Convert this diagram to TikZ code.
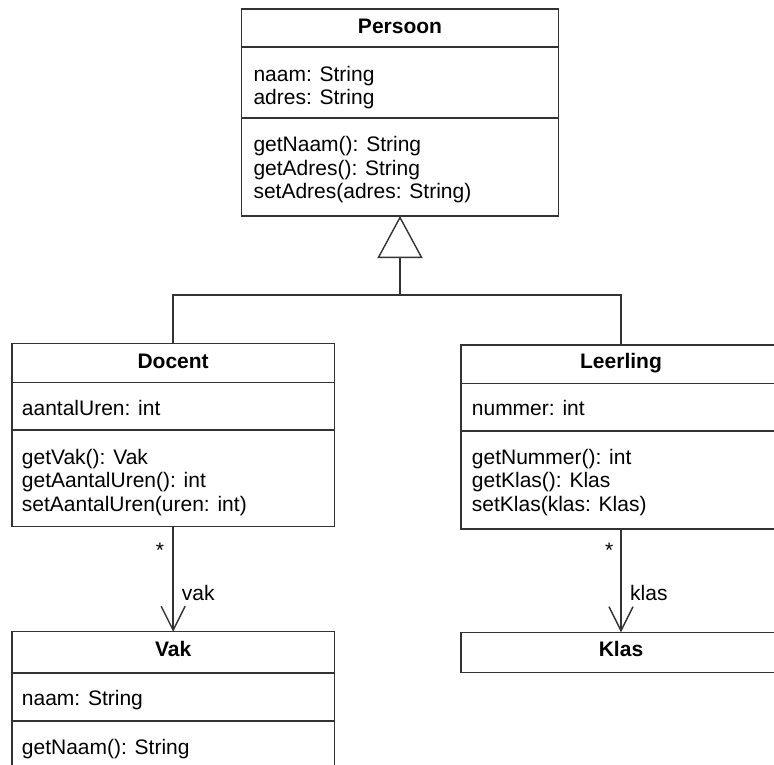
\documentclass[tikz,border=0pt]{standalone}
\usepackage{fontspec}
\setmainfont{Liberation Sans}
\usetikzlibrary{arrows.meta}
\definecolor{lc}{HTML}{333333}
\newcommand\umlfont{\fontsize{21}{23}\selectfont}
\begin{document}
\begin{tikzpicture}[x=1pt,y=-1pt,
  box/.style={draw=lc, line width=1.4pt, rectangle, inner sep=0pt, outer sep=0pt, anchor=north west},
  div/.style={draw=lc, line width=1.4pt},
  conn/.style={draw=lc, line width=1.4pt},
  txt/.style={inner sep=0pt, anchor=base west, font=\umlfont},
  ttl/.style={inner sep=0pt, anchor=base, font=\umlfont\bfseries},
  lbl/.style={inner sep=0pt, anchor=base, font=\umlfont}]
\useasboundingbox (0,0) rectangle (774,764);
\clip (0,0) rectangle (774,764);

% boxes
\node[box, minimum width=316.6pt, minimum height=207pt] (persoon) at (241.7,9) {};
\node[box, minimum width=322.3pt, minimum height=183.4pt] (docent) at (12,343.3) {};
\node[box, minimum width=320pt, minimum height=184pt] (leerling) at (461,345) {};
\node[box, minimum width=322.3pt, minimum height=160pt] (vak) at (12,631.7) {};
\node[box, minimum width=320pt, minimum height=40pt] (klas) at (461,632.3) {};

% dividers
\draw[div] (persoon.west |- 0,47) -- (persoon.east |- 0,47);
\draw[div] (persoon.west |- 0,118) -- (persoon.east |- 0,118);
\draw[div] (docent.west |- 0,382.7) -- (docent.east |- 0,382.7);
\draw[div] (docent.west |- 0,430) -- (docent.east |- 0,430);
\draw[div] (leerling.west |- 0,383.3) -- (leerling.east |- 0,383.3);
\draw[div] (leerling.west |- 0,431) -- (leerling.east |- 0,431);
\draw[div] (vak.west |- 0,673) -- (vak.east |- 0,673);
\draw[div] (vak.west |- 0,721) -- (vak.east |- 0,721);

% Persoon texts
\node[ttl] (p-t) at (400,33.3) {Persoon};
\node[txt] (p-a1) at (253.3,81) {naam: String};
\node[txt] (p-a2) at (253.3,104.3) {adres: String};
\node[txt] (p-m1) at (253.3,151.7) {getNaam(): String};
\node[txt] (p-m2) at (253.3,175) {getAdres(): String};
\node[txt] (p-m3) at (253.3,198.3) {setAdres(adres: String)};

% Docent texts
\node[ttl] (d-t) at (173.15,368.3) {Docent};
\node[txt] (d-a1) at (21.7,415.7) {aantalUren: int};
\node[txt] (d-m1) at (21.7,464.5) {getVak(): Vak};
\node[txt] (d-m2) at (21.7,487.8) {getAantalUren(): int};
\node[txt] (d-m3) at (21.7,511.1) {setAantalUren(uren: int)};

% Leerling texts
\node[ttl] (l-t) at (621,368.3) {Leerling};
\node[txt] (l-a1) at (471.7,415.7) {nummer: int};
\node[txt] (l-m1) at (471.7,464.5) {getNummer(): int};
\node[txt] (l-m2) at (471.7,487.8) {getKlas(): Klas};
\node[txt] (l-m3) at (471.7,511.1) {setKlas(klas: Klas)};

% Vak texts
\node[ttl] (v-t) at (173.15,656.5) {Vak};
\node[txt] (v-a1) at (21.7,705.5) {naam: String};
\node[txt] (v-m1) at (21.7,754.5) {getNaam(): String};

% Klas text
\node[ttl] (k-t) at (621,656) {Klas};

% generalization
\coordinate (join) at (400,295);
\draw[conn] (docent.north) |- (join) -| (leerling.north);
\draw[conn, -{Triangle[open, length=42pt, width=45pt, line width=1.4pt]}] (join) -- (persoon.south);

% associations
\draw[conn, -{Straight Barb[length=24pt, width=24pt, line width=1.4pt]}] (docent.south) -- (vak.north);
\draw[conn, -{Straight Barb[length=24pt, width=24pt, line width=1.4pt]}] (leerling.south) -- (klas.north);

% association labels
\node[lbl] (d-star) at (160,557) {*};
\node[txt] (d-role) at (181.7,600) {vak};
\node[lbl] (l-star) at (609.3,557) {*};
\node[txt] (l-role) at (630,600) {klas};
\end{tikzpicture}
\end{document}
